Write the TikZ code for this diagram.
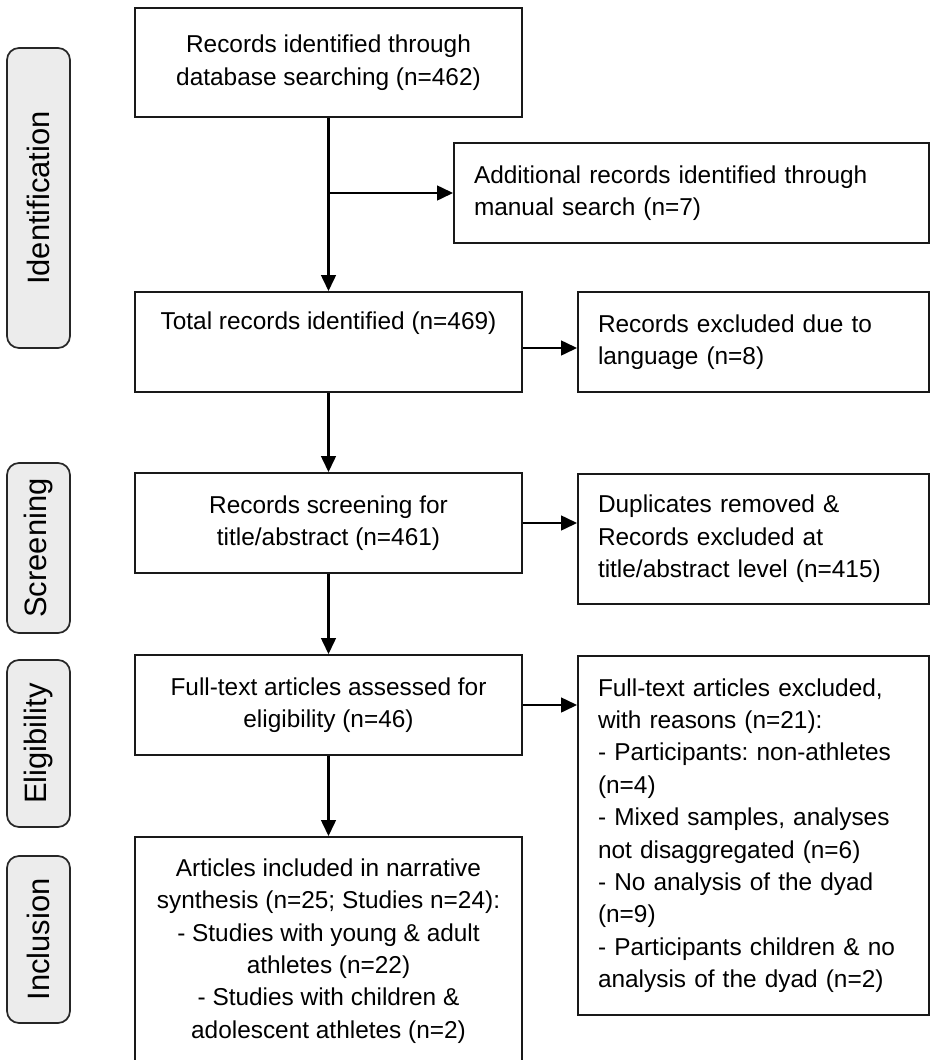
\documentclass[tikz,border=0pt]{standalone}
\usepackage{fontspec}
\setmainfont{Liberation Sans}
\usetikzlibrary{arrows.meta, positioning, calc}
\frenchspacing

\begin{document}
\begin{tikzpicture}[x=0.75pt, y=-0.75pt,
  mainbox/.style={rectangle,draw=black!90,line width=1.4pt,minimum width=290.25pt,align=center,
    font=\fontsize{18.3}{24.3}\selectfont, inner sep=0pt},
  sidebox/.style={rectangle,draw=black!90,line width=1.4pt,minimum width=263.25pt,inner xsep=15pt,inner ysep=0pt,
    text width=233.25pt,align=left,font=\fontsize{18.3}{24.3}\selectfont},
  phase/.style={rectangle,draw=black!85,fill=gray!15,line width=1.3pt,rounded corners=9pt,rotate=90,
    minimum height=47.25pt,inner sep=0pt,font=\fontsize{23.2}{28}\selectfont},
  fl/.style={-{Triangle[length=12pt,width=11pt]},line width=1.8pt}
]
  \useasboundingbox (0,0) rectangle (930,1060);

  % phase labels
  \node[phase, minimum width=225pt]    (pid)  at (38.5,198)   {Identification};
  \node[phase, minimum width=127.5pt]  (pscr) at (38.5,548)   {Screening};
  \node[phase, minimum width=125.25pt] (pel)  at (38.5,743.5) {Eligibility};
  \node[phase, minimum width=125.25pt] (pinc) at (38.5,939.5) {Inclusion};

  % main column
  \node[mainbox, minimum height=81.75pt] (db)     at (328.5,62.5) {Records identified through\\database searching (n=462)};
  \node[mainbox, minimum height=75pt]    (total)  at (328.5,342)  {Total records identified (n=469)\\\strut};
  \node[mainbox, minimum height=75pt]    (screen) at (328.5,523)  {Records screening for\\title/abstract (n=461)};
  \node[mainbox, minimum height=75pt]    (elig)   at (328.5,705)  {Full-text articles assessed for\\eligibility (n=46)};
  \node[mainbox, minimum height=171pt]   (incl)   at (328.5,951)  {Articles included in narrative\\synthesis (n=25; Studies n=24):\\- Studies with young \& adult\\athletes (n=22)\\- Studies with children \&\\adolescent athletes (n=2)};

  % side column
  \node[sidebox, minimum width=356.25pt, text width=326.25pt, minimum height=75pt] (manual) at (691.5,193)
    {Additional records identified through\\manual search (n=7)};
  \node[sidebox, minimum height=75pt]     (lang) at (753.5,342) {Records excluded due to\\language (n=8)};
  \node[sidebox, minimum height=97.5pt]   (dup)  at (753.5,539) {Duplicates removed \&\\Records excluded at\\title/abstract level (n=415)};
  \node[sidebox, minimum height=269.25pt] (excl) at (753.5,835.5) {Full-text articles excluded,\\with reasons (n=21):\\- Participants: non-athletes\\(n=4)\\- Mixed samples, analyses\\not disaggregated (n=6)\\- No analysis of the dyad\\(n=9)\\- Participants children \& no\\analysis of the dyad (n=2)};

  \coordinate (split) at (db.south |- manual.west);

  \draw[fl] (db) -- (total);
  \draw[fl] (split) -- (manual);
  \draw[fl] (total) -- (screen);
  \draw[fl] (screen) -- (elig);
  \draw[fl] (elig) -- (incl);
  \draw[fl] ($(total.east)+(0,6)$) -- ($(lang.west)+(0,6)$);
  \draw[fl] (screen.east) -- (dup.west |- screen.east);
  \draw[fl] (elig.east) -- (excl.west |- elig.east);
\end{tikzpicture}
\end{document}
